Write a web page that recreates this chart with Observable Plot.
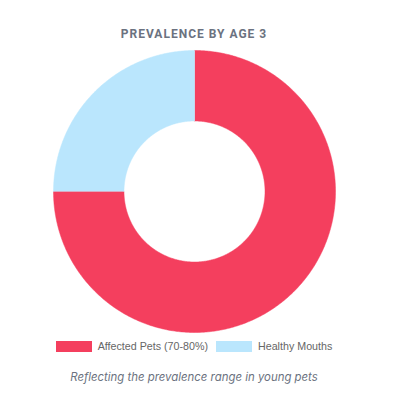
<!DOCTYPE html>
<html>
<head>
<meta charset="utf-8">
<script src="https://cdn.jsdelivr.net/npm/d3@7"></script>
<script src="https://cdn.jsdelivr.net/npm/@observablehq/plot@0.6"></script>
<style>
  html, body { margin: 0; padding: 0; background: #ffffff; }
  #wrap { position: relative; width: 398px; height: 406px; overflow: hidden; }
  #title { position: absolute; left: 0; width: 388px; top: 26px; text-align: center;
    font-family: Roboto, "Noto Sans", sans-serif; font-weight: 700; font-size: 12px;
    line-height: 16px; letter-spacing: 1px; color: #6b7280; }
  #chart { position: absolute; left: 0; top: 45px; }
  #legend { position: absolute; left: 0; width: 388px; top: 340px; display: flex;
    justify-content: center; align-items: center; font-family: "Liberation Sans", Arial, sans-serif;
    font-size: 10.7px; line-height: 13px; color: #666666; }
  .item { display: flex; align-items: center; margin: 0 4px; }
  .sw { width: 36px; height: 11px; margin-right: 6px; }
  #caption { position: absolute; left: 0; width: 388px; top: 369px; text-align: center;
    font-family: Inter, Roboto, sans-serif; font-style: italic; font-size: 11.4px;
    line-height: 16px; color: #6b7280; }
</style>
</head>
<body>
<div id="wrap">
  <div id="title"></div>
  <div id="chart"></div>
  <div id="legend"></div>
  <div id="caption"></div>
</div>
<script>
const titleText = "PREVALENCE BY AGE 3";
const captionText = "Reflecting the prevalence range in young pets";
const categories = ["Affected Pets (70-80%)", "Healthy Mouths"];
const values = [75, 25];
const colors = ["#f43f5e", "#bae6fd"];

document.getElementById("title").textContent = titleText;
document.getElementById("caption").textContent = captionText;

const innerFrac = 0.5;
const pie = d3.pie().sort(null).value(d => d.value);
const arcs = pie(categories.map((c, i) => ({ category: c, value: values[i], color: colors[i] })));

function slicePoints(a) {
  const pts = [];
  const n = Math.max(8, Math.ceil((a.endAngle - a.startAngle) / 0.01));
  for (let k = 0; k <= n; k++) {
    const t = a.startAngle + (a.endAngle - a.startAngle) * k / n;
    pts.push({ x: Math.sin(t), y: Math.cos(t) });
  }
  for (let k = n; k >= 0; k--) {
    const t = a.startAngle + (a.endAngle - a.startAngle) * k / n;
    pts.push({ x: innerFrac * Math.sin(t), y: innerFrac * Math.cos(t) });
  }
  return pts;
}

const cx = 194, cy = 146, R = 141;
const plot = Plot.plot({
  width: 398,
  height: 295,
  margin: 0,
  x: { domain: [-1, 1], range: [cx - R, cx + R], axis: null },
  y: { domain: [-1, 1], range: [cy + R, cy - R], axis: null },
  marks: arcs.map(a => Plot.line(slicePoints(a), { x: "x", y: "y", fill: a.data.color, stroke: a.data.color, strokeWidth: 0.5 }))
});
document.getElementById("chart").appendChild(plot);

const legend = document.getElementById("legend");
categories.forEach((c, i) => {
  const it = document.createElement("div");
  it.className = "item";
  const sw = document.createElement("div");
  sw.className = "sw";
  sw.style.background = colors[i];
  const tx = document.createElement("span");
  tx.textContent = c;
  it.appendChild(sw);
  it.appendChild(tx);
  legend.appendChild(it);
});
</script>
</body>
</html>
